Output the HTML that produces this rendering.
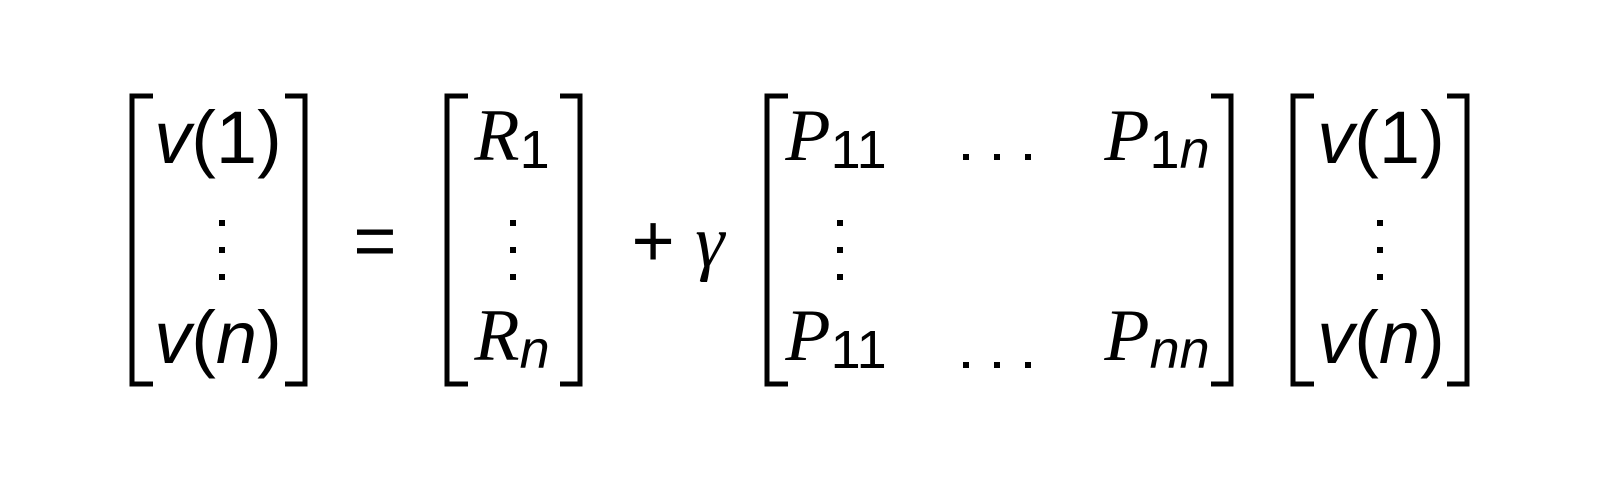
<!DOCTYPE html>
<html><head><meta charset="utf-8"><style>
html,body{margin:0;padding:0;background:#fff;width:1598px;height:494px;overflow:hidden}
svg{display:block}
text{font-family:"Liberation Sans","DejaVu Sans",sans-serif;fill:#000}
.it{font-style:italic}
.cal{font-family:"Liberation Serif",serif;font-style:italic}
</style></head><body>
<svg width="1598" height="494" viewBox="0 0 1598 494">
<g fill="none" stroke="#000" stroke-width="5">
 <path d="M153,96 H132 V384 H153"/>
 <path d="M285,96 H305 V384 H285"/>
 <path d="M468,96 H447 V384 H468"/>
 <path d="M560,96 H580 V384 H560"/>
 <path d="M788,96 H767 V384 H788"/>
 <path d="M1211,96 H1231 V384 H1211"/>
 <path d="M1314,96 H1293 V384 H1314"/>
 <path d="M1447,96 H1467 V384 H1447"/>
</g>
<g font-size="74">
 <text x="218" y="163" text-anchor="middle"><tspan class="it">v</tspan>(1)</text>
 <text x="218" y="363" text-anchor="middle"><tspan class="it">v</tspan>(<tspan class="it">n</tspan>)</text>
 <text x="375" y="266" text-anchor="middle">=</text>
 <text x="512" y="160" text-anchor="middle"><tspan class="cal">R</tspan><tspan font-size="54" dy="8">1</tspan></text>
 <text x="512" y="360" text-anchor="middle"><tspan class="cal">R</tspan><tspan class="it" font-size="54" dy="8">n</tspan></text>
 <text x="678" y="266" text-anchor="middle">+ <tspan class="cal">γ</tspan></text>
 <text x="836" y="160" text-anchor="middle"><tspan class="cal">P</tspan><tspan font-size="54" dy="8">11</tspan></text>
 <text x="1157" y="160" text-anchor="middle"><tspan class="cal">P</tspan><tspan font-size="54" dy="8">1</tspan><tspan class="it" font-size="54">n</tspan></text>
 <text x="836" y="360" text-anchor="middle"><tspan class="cal">P</tspan><tspan font-size="54" dy="8">11</tspan></text>
 <text x="1157" y="360" text-anchor="middle"><tspan class="cal">P</tspan><tspan class="it" font-size="54" dy="8">nn</tspan></text>
 <text x="1381" y="163" text-anchor="middle"><tspan class="it">v</tspan>(1)</text>
 <text x="1381" y="363" text-anchor="middle"><tspan class="it">v</tspan>(<tspan class="it">n</tspan>)</text>
</g>
<g fill="#000">
 <g><rect x="963" y="154" width="6" height="6"/><rect x="994" y="154" width="6" height="6"/><rect x="1025" y="154" width="6" height="6"/></g>
 <g><rect x="963" y="362" width="6" height="6"/><rect x="994" y="362" width="6" height="6"/><rect x="1025" y="362" width="6" height="6"/></g>
 <g><rect x="219" y="220" width="6" height="6"/><rect x="219" y="247" width="6" height="6"/><rect x="219" y="274" width="6" height="6"/></g>
 <g><rect x="510" y="220" width="6" height="6"/><rect x="510" y="247" width="6" height="6"/><rect x="510" y="274" width="6" height="6"/></g>
 <g><rect x="837" y="220" width="6" height="6"/><rect x="837" y="247" width="6" height="6"/><rect x="837" y="274" width="6" height="6"/></g>
 <g><rect x="1377" y="220" width="6" height="6"/><rect x="1377" y="247" width="6" height="6"/><rect x="1377" y="274" width="6" height="6"/></g>
</g>
</svg>
</body></html>
